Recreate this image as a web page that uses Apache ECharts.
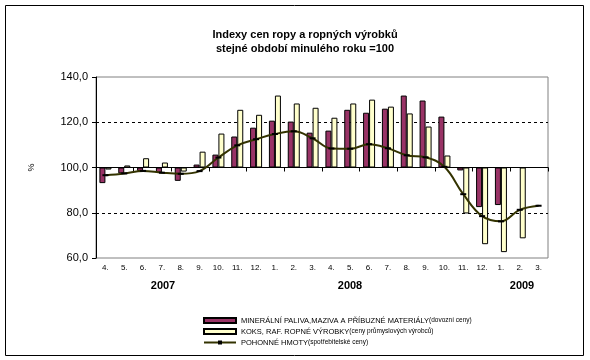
<!DOCTYPE html>
<html>
<head>
<meta charset="utf-8">
<script src="https://cdn.jsdelivr.net/npm/echarts@6/dist/echarts.min.js"></script>
<style>
  html, body { margin: 0; padding: 0; background: #fff; }
  #chart { width: 590px; height: 360px; }
</style>
</head>
<body>
<div id="chart"></div>
<script>
// months from 4/2007 to 3/2009
var months = ['4.', '5.', '6.', '7.', '8.', '9.', '10.', '11.', '12.', '1.', '2.', '3.',
    '4.', '5.', '6.', '7.', '8.', '9.', '10.', '11.', '12.', '1.', '2.', '3.'];
var years = ['2007', '2008', '2009'];
var yTicks = [60, 80, 100, 120, 140];

var mineralni = [93.1, 97.4, 98.5, 97.7, 94.1, 101.3, 105.7, 113.7, 117.6, 120.7, 120.3, 115.4,
    116.3, 125.5, 124.2, 126.0, 131.8, 129.6, 122.5, 98.7, 82.5, 83.4, null, null];
var koks = [99.1, 100.9, 104.1, 102.2, 98.2, 107.0, 115.0, 125.5, 123.3, 131.8, 128.3, 126.4,
    122.0, 128.3, 130.0, 126.9, 123.9, 118.1, 105.3, 79.7, 66.1, 62.6, 68.7, null];
var pohonne = [96.6, 97.4, 98.5, 97.7, 97.2, 98.4, 104.4, 109.8, 112.5, 114.8, 116.0, 112.9,
    108.4, 108.3, 110.3, 108.5, 105.4, 104.5, 100.3, 88.2, 78.5, 76.2, 81.3, 83.1];

var names = [
    'MINERÁLNÍ PALIVA,MAZIVA A PŘÍBUZNÉ MATERIÁLY',
    'KOKS, RAF. ROPNÉ VÝROBKY',
    'POHONNÉ HMOTY'
];
var notes = ['(dovozní ceny)', '(ceny průmyslových výrobců)', '(spotřebitelské ceny)'];

var BASE = 100;
var font = "'Liberation Sans', Arial, sans-serif";

// values are drawn relative to 100 so the bars start at the 100 line
function rel(arr) {
    return arr.map(function (v) { return v == null ? null : +(v - BASE).toFixed(2); });
}

var myChart = echarts.init(document.getElementById('chart'));

var option = {
    animation: false,
    textStyle: { fontFamily: font },
    title: {
        text: 'Indexy cen ropy a ropných výrobků',
        subtext: 'stejné období minulého roku =100',
        left: 300, top: 24, textAlign: 'center',
        itemGap: 3,
        textStyle: { fontSize: 11, fontWeight: 'bold', color: '#000', fontFamily: font },
        subtextStyle: { fontSize: 11, fontWeight: 'bold', color: '#000', fontFamily: font }
    },
    legend: {
        orient: 'vertical',
        left: 198, top: 311,
        itemWidth: 32, itemHeight: 5,
        itemGap: 2,
        data: [
            { name: names[0], icon: 'rect' },
            { name: names[1], icon: 'rect' },
            { name: names[2] }
        ],
        formatter: function (n) {
            var i = names.indexOf(n);
            return '{a|' + n + '}{b|' + notes[i] + '}';
        },
        textStyle: {
            color: '#000',
            lineHeight: 9,
            rich: {
                a: { fontSize: 7.5, fontFamily: font, color: '#000' },
                b: { fontSize: 6.5, fontFamily: font, color: '#000' }
            }
        }
    },
    grid: {
        left: 96, top: 77, width: 452, height: 181,
        show: true, borderColor: '#808080', borderWidth: 1,
        containLabel: false
    },
    xAxis: [{
        type: 'category',
        data: months,
        axisLine: { onZero: true, lineStyle: { color: '#000', width: 1 } },
        axisTick: { show: true, length: 4, lineStyle: { color: '#000' } },
        axisLabel: { show: false }
    }, {
        type: 'category',
        data: months,
        position: 'bottom',
        axisLine: { show: false, onZero: false },
        axisTick: { show: false },
        axisLabel: { fontSize: 8, color: '#000', margin: 6, interval: 0 }
    }],
    yAxis: {
        type: 'value',
        min: yTicks[0] - BASE, max: yTicks[yTicks.length - 1] - BASE, interval: 20,
        name: '%', nameLocation: 'middle', nameGap: 60, nameRotate: 90,
        nameTextStyle: { fontSize: 9, color: '#000' },
        axisLine: { show: true, lineStyle: { color: '#000' } },
        axisTick: { show: true, length: 4, lineStyle: { color: '#000' } },
        axisLabel: {
            fontSize: 11, color: '#000', margin: 8,
            formatter: function (v) { return (v + BASE).toFixed(1).replace('.', ','); }
        },
        splitLine: {
            show: true,
            lineStyle: {
                type: [3, 3],
                color: ['rgba(0,0,0,0)', '#000', 'rgba(0,0,0,0)', '#000', 'rgba(0,0,0,0)']
            }
        }
    },
    series: [{
        name: names[0],
        type: 'bar',
        data: rel(mineralni),
        barWidth: 6, barGap: '0%',
        itemStyle: { color: '#993366', borderColor: '#000', borderWidth: 1 }
    }, {
        name: names[1],
        type: 'bar',
        data: rel(koks),
        barWidth: 6, barGap: '0%',
        itemStyle: { color: '#FFFFCC', borderColor: '#000', borderWidth: 1 }
    }, {
        name: names[2],
        type: 'line',
        data: rel(pohonne),
        smooth: 0.4,
        symbol: 'rect', symbolSize: [6, 2],
        itemStyle: { color: '#000' },
        lineStyle: { color: '#333300', width: 2 },
        z: 5
    }],
    graphic: [
        { type: 'rect', shape: { x: 5.5, y: 5.5, width: 578, height: 350 },
          style: { fill: 'none', stroke: '#000', lineWidth: 1 }, silent: true },
        { type: 'text', x: 163, y: 286, style: { text: years[0], font: 'bold 11px ' + font, fill: '#000', align: 'center', verticalAlign: 'middle' } },
        { type: 'text', x: 350, y: 286, style: { text: years[1], font: 'bold 11px ' + font, fill: '#000', align: 'center', verticalAlign: 'middle' } },
        { type: 'text', x: 522, y: 286, style: { text: years[2], font: 'bold 11px ' + font, fill: '#000', align: 'center', verticalAlign: 'middle' } }
    ]
};

myChart.setOption(option);
</script>
</body>
</html>
